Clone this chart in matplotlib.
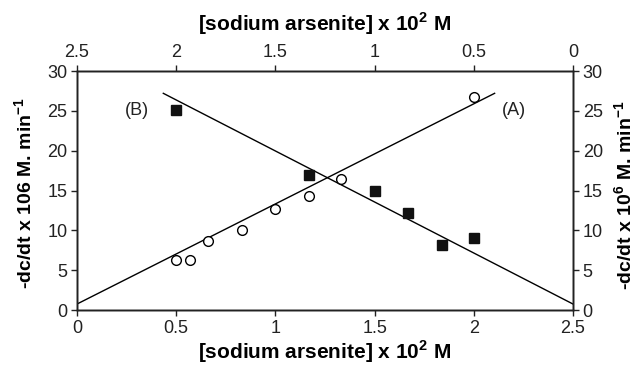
import matplotlib.pyplot as plt

plt.rcParams['font.family'] = ['Liberation Sans', 'DejaVu Sans']
plt.rcParams['mathtext.fontset'] = 'custom'
plt.rcParams['mathtext.rm'] = 'Liberation Sans'
plt.rcParams['mathtext.bf'] = 'Liberation Sans:bold'

# --- Data ---
# (A) open circles, bottom axis
conc_a = [0.50, 0.57, 0.66, 0.83, 1.00, 1.17, 1.33, 2.00]
rate_a = [6.3, 6.3, 8.7, 10.1, 12.7, 14.3, 16.4, 26.8]
# (B) filled squares
conc_b = [0.50, 1.17, 1.50, 1.67, 1.84, 2.00]
rate_b = [25.1, 16.9, 15.0, 12.2, 8.2, 9.1]
# fitted lines (end points)
fit_a_x = [0.0, 2.105]
fit_a_y = [0.75, 27.2]
fit_b_x = [0.435, 2.5]
fit_b_y = [27.2, 0.75]

xticks = [0, 0.5, 1, 1.5, 2, 2.5]
xticklabels = ['0', '0.5', '1', '1.5', '2', '2.5']
yticks = [0, 5, 10, 15, 20, 25, 30]

xlabel = '[sodium arsenite] x 10$^{\\mathbf{2}}$ M'
ylabel_left = '-dc/dt x 106 M. min$^{\\mathbf{-1}}$'
ylabel_right = '-dc/dt x 10$^{\\mathbf{6}}$ M. min$^{\\mathbf{-1}}$'

fig = plt.figure(figsize=(6.38, 3.67), dpi=100)
ax = fig.add_axes([0.1207, 0.1553, 0.7774, 0.6512])

ax.plot(fit_a_x, fit_a_y, color='black', lw=1.0)
ax.plot(fit_b_x, fit_b_y, color='black', lw=1.0)
ax.plot(conc_a, rate_a, 'o', mfc='white', mec='black', mew=1.0, ms=7, ls='none')
ax.plot(conc_b, rate_b, 's', mfc='#111111', mec='#111111', ms=7, ls='none')

ax.text(0.30, 25.1, '(B)', fontsize=13, ha='center', va='center', color='#222222')
ax.text(2.20, 25.1, '(A)', fontsize=13, ha='center', va='center', color='#222222')

ax.set_xlim(0, 2.5)
ax.set_ylim(0, 30)
ax.set_xticks(xticks)
ax.set_xticklabels(xticklabels)
ax.set_yticks(yticks)
ax.set_xlabel(xlabel, fontsize=15, fontweight='bold')
ax.set_ylabel(ylabel_left, fontsize=14, fontweight='bold')
ax.xaxis.set_label_coords(0.5, -0.176)
ax.yaxis.set_label_coords(-0.105, 0.49)

# top axis (reversed)
top = ax.twiny()
top.set_xlim(2.5, 0)
top.set_xticks(xticks)
top.set_xticklabels(xticklabels)
top.set_xlabel(xlabel, fontsize=15, fontweight='bold')
top.xaxis.set_label_coords(0.5, 1.198)

# right axis
right = ax.twinx()
right.set_ylim(0, 30)
right.set_yticks(yticks)
right.set_ylabel(ylabel_right, fontsize=14, fontweight='bold')
right.yaxis.set_label_coords(1.105, 0.48)

for lab in (ax.xaxis.label, ax.yaxis.label, top.xaxis.label, right.yaxis.label):
    lab.set_va('center')
    lab.set_ha('center')

for a in (ax, top, right):
    a.tick_params(direction='out', length=4, width=1.0, labelsize=13, colors='#222222', pad=3)
    for s in a.spines.values():
        s.set_linewidth(1.0)
        s.set_color('#222222')

fig.savefig('out.png', dpi=100)
